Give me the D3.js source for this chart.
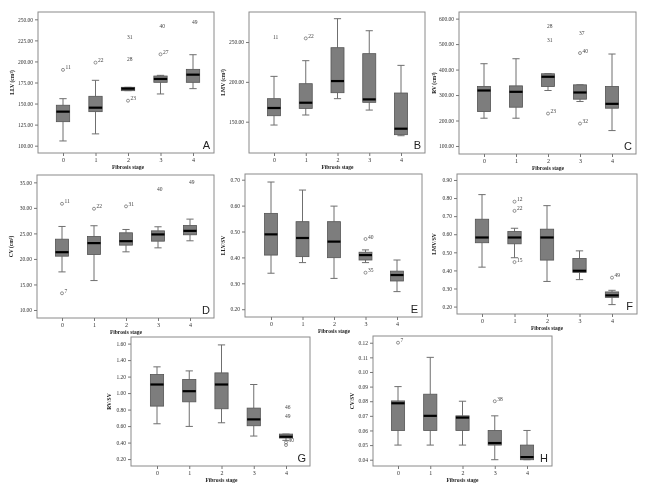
<!DOCTYPE html>
<html><head><meta charset="utf-8">
<script src="https://cdn.jsdelivr.net/npm/d3@7"></script>
<style>
html,body{margin:0;padding:0;background:#fff;}
svg{display:block;transform:translateZ(0);will-change:transform;}
.tick text{font-family:"Liberation Serif","DejaVu Serif",serif;}
</style>
</head><body>
<svg id="chart" width="648" height="492"></svg>
<script>
// ---------- DATA ----------
const stages = ["0", "1", "2", "3", "4"];
// five-number summaries per stage: [lower whisker, Q1, median, Q3, upper whisker]
const LLV = [[105.6,128.5,140.4,148,155.8],[114,140.4,145.1,158.6,177.6],[165.3,165.3,167.7,169.3,169.3],[161.4,175.2,179.2,182.7,183.5],[167.7,175.2,184.3,190.6,208]];
const LMV = [[145.8,157.5,167.2,178.9,206.9],[158.4,166.7,173.8,197.7,226.6],[178.9,186.4,201,242.9,279.3],[164.6,174.3,178,235.4,264.2],[132.4,133.7,141.2,186,220.7]];
const RV  = [[209,235,317.8,333.6,423],[209,252.2,312.6,336,442.5],[317.8,333.6,371.7,383.5,383.5],[274.5,283.7,310,340,340],[160.4,248.3,265.4,333.6,461]];
const CV  = [[17.46,20.54,21.32,23.87,26.36],[15.76,20.86,23.1,24.4,26.5],[21.39,22.7,23.48,25.12,25.77],[22.17,23.48,24.8,25.5,26.3],[23.55,24.73,25.5,26.56,27.8]];
const LLVSV = [[0.339,0.409,0.489,0.57,0.691],[0.38,0.403,0.475,0.538,0.66],[0.319,0.399,0.461,0.538,0.598],[0.38,0.39,0.409,0.42,0.429],[0.268,0.309,0.332,0.347,0.39]];
const LMVSV = [[0.418,0.553,0.582,0.683,0.819],[0.47,0.547,0.582,0.615,0.633],[0.339,0.457,0.582,0.628,0.758],[0.349,0.389,0.398,0.466,0.508],[0.211,0.251,0.262,0.281,0.29]];
const RVSV = [[0.628,0.842,1.104,1.225,1.318],[0.596,0.894,1.023,1.165,1.269],[0.64,0.81,1.104,1.245,1.584],[0.479,0.604,0.681,0.818,1.104],[0.427,0.455,0.471,0.503,0.503]];
const CVSV = [[0.05,0.06,0.0786,0.0802,0.09],[0.05,0.06,0.07,0.0848,0.11],[0.05,0.06,0.0688,0.07,0.08],[0.04,0.05,0.0514,0.06,0.07],[0.04,0.04,0.0418,0.05,0.06]];
// outliers: [stage index, value, case label, kind ("o" = circle, "x" = extreme)]
const LLV_out = [[0,190,"11","o"],[1,198.6,"22","o"],[2,228.6,"31","x"],[2,202.5,"28","x"],[2,153.4,"23","o"],[3,242,"40","x"],[3,208.5,"27","o"],[4,247.2,"49","x"]];
const LMV_out = [[0,255.9,"11","x"],[1,254.6,"22","o"]];
const RV_out = [[2,572,"28","x"],[2,514.7,"31","x"],[2,227.3,"23","o"],[3,542,"37","x"],[3,464.8,"40","o"],[3,188,"32","o"]];
const CV_out = [[0,30.8,"11","o"],[0,13.27,"7","o"],[1,29.83,"22","o"],[2,30.3,"31","o"],[3,33.76,"40","x"],[4,35.1,"49","x"]];
const LLVSV_out = [[3,0.471,"40","o"],[3,0.341,"35","o"]];
const LMVSV_out = [[1,0.78,"12","o"],[1,0.729,"22","o"],[1,0.446,"15","o"],[4,0.36,"49","o"]];
const RVSV_out = [[4,0.834,"46","x"],[4,0.721,"49","x"],[4,0.402,"30","o"],[4,0.37,"","o"]];
const CVSV_out = [[0,0.12,"7","o"],[3,0.08,"38","o"]];
// y tick values
const LLV_ticks = [100,125,150,175,200,225,250];
const LMV_ticks = [150,200,250];
const RV_ticks = [100,200,300,400,500,600];
const CV_ticks = [10,15,20,25,30,35];
const LLVSV_ticks = [0.2,0.3,0.4,0.5,0.6,0.7];
const LMVSV_ticks = [0.2,0.3,0.4,0.5,0.6,0.7,0.8,0.9];
const RVSV_ticks = [0.2,0.4,0.6,0.8,1.0,1.2,1.4,1.6];
const CVSV_ticks = [0.04,0.05,0.06,0.07,0.08,0.09,0.10,0.11,0.12];
const yTitles = ["LLV (cm\u00b3)","LMV (cm\u00b3)","RV (cm\u00b3)","CV (cm\u00b3)","LLV/SV","LMV/SV","RV/SV","CV/SV"];
const letters = ["A","B","C","D","E","F","G","H"];
const xTitle = "Fibrosis stage";

// ---------- LAYOUT ----------
const panels = [
  {box:LLV, out:LLV_out, ticks:LLV_ticks, dom:[91.3,258.7], f:{l:38,t:12,r:214,b:153}, px:[63,193], tx:13},
  {box:LMV, out:LMV_out, ticks:LMV_ticks, dom:[110.7,287.7], f:{l:249,t:12,r:425,b:153}, px:[274,401], tx:224},
  {box:RV, out:RV_out, ticks:RV_ticks, dom:[68.5,626], f:{l:459,t:12,r:636,b:154}, px:[484,612], tx:435},
  {box:CV, out:CV_out, ticks:CV_ticks, dom:[8.43,36.44], f:{l:37,t:175,r:214,b:318}, px:[62,190], tx:12},
  {box:LLVSV, out:LLVSV_out, ticks:LLVSV_ticks, dom:[0.170,0.722], f:{l:245,t:174,r:422,b:317}, px:[271,397], tx:224},
  {box:LMVSV, out:LMVSV_out, ticks:LMVSV_ticks, dom:[0.159,0.933], f:{l:457,t:174,r:637,b:314}, px:[482,612], tx:435},
  {box:RVSV, out:RVSV_out, ticks:RVSV_ticks, dom:[0.116,1.68], f:{l:131,t:337,r:310,b:466}, px:[157,286], tx:110},
  {box:CVSV, out:CVSV_out, ticks:CVSV_ticks, dom:[0.0357,0.1246], f:{l:373,t:336,r:552,b:466}, px:[398,527], tx:353}
];

const svg = d3.select("#chart");
const serif = "'Liberation Serif','DejaVu Serif',serif";
const boxFill = "#7d7d7d", lineCol = "#6f6f6f", frameCol = "#8a8a8a";

panels.forEach((p, i) => {
  const f = p.f;
  const g = svg.append("g");
  const x = d3.scalePoint().domain(stages).range(p.px);
  const y = d3.scaleLinear().domain(p.dom).range([f.b, f.t]);
  const bw = x.step() * 0.41;
  const cap = bw * 0.55;

  // frame
  g.append("rect").attr("x", f.l).attr("y", f.t).attr("width", f.r - f.l).attr("height", f.b - f.t)
    .attr("fill", "none").attr("stroke", frameCol).attr("stroke-width", 1);

  // axes
  const ya = g.append("g").attr("transform", `translate(${f.l},0)`)
    .call(d3.axisLeft(y).tickValues(p.ticks).tickFormat(d3.format(".2f")).tickSize(3).tickPadding(2));
  ya.select(".domain").remove();
  ya.selectAll(".tick line").attr("stroke", "#777");
  ya.selectAll(".tick text").attr("font-size", 5.5).attr("font-family", serif).attr("fill", "#333");

  const xa = g.append("g").attr("transform", `translate(0,${f.b})`)
    .call(d3.axisBottom(x).tickSize(3).tickPadding(2));
  xa.select(".domain").remove();
  xa.selectAll(".tick line").attr("stroke", "#777");
  xa.selectAll(".tick text").attr("font-size", 6).attr("font-family", serif).attr("fill", "#333");

  // axis titles
  g.append("text").attr("x", (p.px[0] + p.px[1]) / 2).attr("y", f.b + 16)
    .attr("text-anchor", "middle").attr("font-family", serif).attr("font-size", 5.5)
    .attr("font-weight", "bold").attr("fill", "#222").text(xTitle);
  g.append("text").attr("transform", `translate(${p.tx},${(f.t + f.b) / 2}) rotate(-90)`)
    .attr("text-anchor", "middle").attr("dominant-baseline", "middle").attr("font-family", serif)
    .attr("font-size", 5.5).attr("font-weight", "bold").attr("fill", "#222").text(yTitles[i]);

  // boxes
  const bx = g.selectAll("g.bx").data(p.box).join("g").attr("class", "bx");
  bx.append("line").attr("x1", (d, k) => x(stages[k])).attr("x2", (d, k) => x(stages[k]))
    .attr("y1", d => y(d[4])).attr("y2", d => y(d[3])).attr("stroke", lineCol);
  bx.append("line").attr("x1", (d, k) => x(stages[k])).attr("x2", (d, k) => x(stages[k]))
    .attr("y1", d => y(d[1])).attr("y2", d => y(d[0])).attr("stroke", lineCol);
  bx.append("line").attr("x1", (d, k) => x(stages[k]) - cap / 2).attr("x2", (d, k) => x(stages[k]) + cap / 2)
    .attr("y1", d => y(d[4])).attr("y2", d => y(d[4])).attr("stroke", lineCol);
  bx.append("line").attr("x1", (d, k) => x(stages[k]) - cap / 2).attr("x2", (d, k) => x(stages[k]) + cap / 2)
    .attr("y1", d => y(d[0])).attr("y2", d => y(d[0])).attr("stroke", lineCol);
  bx.append("rect").attr("x", (d, k) => x(stages[k]) - bw / 2).attr("width", bw)
    .attr("y", d => y(d[3])).attr("height", d => Math.max(1, y(d[1]) - y(d[3])))
    .attr("fill", boxFill).attr("stroke", "#555").attr("stroke-width", 0.8);
  bx.append("line").attr("x1", (d, k) => x(stages[k]) - bw / 2).attr("x2", (d, k) => x(stages[k]) + bw / 2)
    .attr("y1", d => y(d[2])).attr("y2", d => y(d[2])).attr("stroke", "#000").attr("stroke-width", 2.2);

  // outliers
  p.out.forEach(o => {
    const cx = x(stages[o[0]]), cy = y(o[1]);
    if (o[3] === "o") {
      g.append("circle").attr("cx", cx).attr("cy", cy).attr("r", 1.5)
        .attr("fill", "none").attr("stroke", "#666").attr("stroke-width", 0.7);
      if (o[2]) g.append("text").attr("x", cx + 2.5).attr("y", cy - 0.5)
        .attr("font-family", serif).attr("font-size", 5.5).attr("fill", "#444").text(o[2]);
    } else {
      g.append("text").attr("x", cx - 1).attr("y", cy + 2)
        .attr("font-family", serif).attr("font-size", 5.5).attr("fill", "#444").text(o[2]);
    }
  });

  // panel letter
  g.append("text").attr("x", f.r - 4).attr("y", f.b - 4).attr("text-anchor", "end")
    .attr("font-family", "'Liberation Sans',Arial,sans-serif").attr("font-size", 11).attr("fill", "#222")
    .text(letters[i]);
});
</script>
</body></html>
